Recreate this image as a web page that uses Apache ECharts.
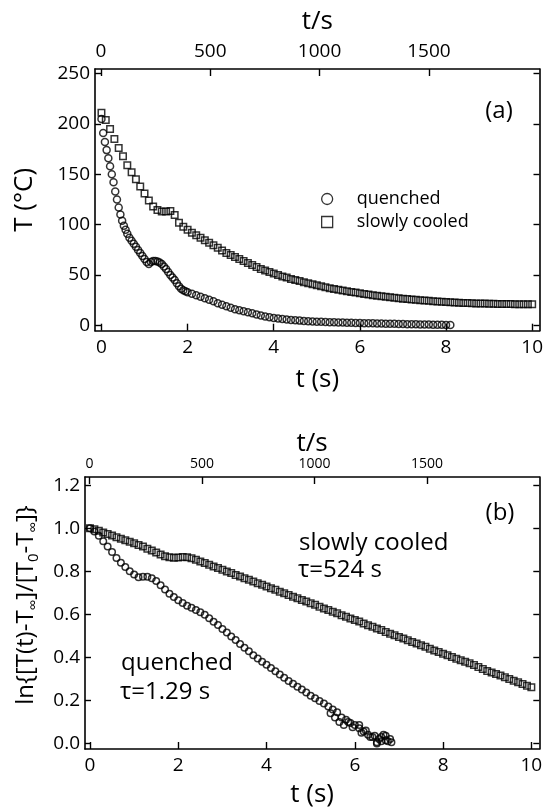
<!DOCTYPE html>
<html>
<head>
<meta charset="utf-8">
<script src="https://cdn.jsdelivr.net/npm/echarts@6/dist/echarts.min.js"></script>
<style>
html,body{margin:0;padding:0;background:#fff;}
#chart{width:553px;height:809px;}
</style>
</head>
<body>
<div id="chart"></div>
<script>
// ---------- data ----------
// panel (a): temperature T (°C) vs t (s)
const quenchedT = [
[0,205],[0.04,191],[0.08,182],[0.12,174],[0.16,166],[0.2,158],[0.24,150],[0.28,142],[0.32,133],[0.36,125],
[0.4,117],[0.44,110],[0.48,104],[0.52,99],[0.56,95],[0.6,91],[0.65,87],[0.7,84],[0.75,81],[0.8,78],
[0.85,75],[0.9,72],[0.95,69],[1.0,66],[1.05,63],[1.1,61],[1.15,63],[1.2,64],[1.25,64],[1.3,63.5],
[1.35,62.5],[1.4,61],[1.45,58.5],[1.5,56],[1.55,53],[1.6,50],[1.65,47.5],[1.7,45],[1.75,42],[1.8,39],
[1.85,36.5],[1.9,35],[1.95,34],[2.0,33],[2.1,31.5],[2.2,30],[2.3,28.5],[2.4,27],[2.5,25.5],[2.6,24],
[2.7,22],[2.8,20.5],[2.9,19],[3.0,17.5],[3.1,16],[3.2,15],[3.3,14],[3.4,13],[3.5,12],[3.6,11],
[3.7,10],[3.8,9],[3.9,8.2],[4.0,7.5],[4.1,7],[4.2,6.5],[4.3,6],[4.4,5.5],[4.5,5.1],[4.6,4.8],
[4.7,4.5],[4.8,4.2],[4.9,4],[5.0,3.8],[5.1,3.6],[5.2,3.4],[5.3,3.3],[5.4,3.1],[5.5,3],[5.6,2.9],
[5.7,2.8],[5.8,2.7],[5.9,2.5],[6.0,2.4],[6.1,2.3],[6.2,2.2],[6.3,2.1],[6.4,2],[6.5,1.9],[6.6,1.8],
[6.7,1.7],[6.8,1.6],[6.9,1.5],[7.0,1.4],[7.1,1.3],[7.2,1.2],[7.3,1.1],[7.4,1.0],[7.5,0.95],[7.6,0.9],
[7.7,0.8],[7.8,0.7],[7.9,0.6],[8.0,0.55],[8.1,0.5]
];
const slowlyT = [
[0,211],[0.1,204],[0.2,195],[0.3,185],[0.4,176],[0.5,168],[0.6,159],[0.7,152],[0.8,145],[0.9,138],
[1.0,131],[1.1,124],[1.2,118],[1.3,114.5],[1.4,113],[1.5,113],[1.6,113.5],[1.7,109.5],[1.8,102],[1.9,98],
[2.0,95],[2.1,92],[2.2,89.5],[2.3,87],[2.4,84.5],[2.5,82],[2.6,79.5],[2.7,77],[2.8,74.5],[2.9,72],
[3.0,70],[3.1,68],[3.2,66],[3.3,64],[3.4,62],[3.5,60],[3.6,58],[3.7,56],[3.8,54.5],[3.9,53],
[4.0,51.5],[4.1,50],[4.2,48.5],[4.3,47.5],[4.4,46],[4.5,45],[4.6,44],[4.7,43],[4.8,42],[4.9,41],
[5.0,40],[5.1,39],[5.2,38],[5.3,37],[5.4,36.2],[5.5,35.5],[5.6,34.7],[5.7,34],[5.8,33.3],[5.9,32.6],
[6.0,32],[6.1,31.3],[6.2,30.7],[6.3,30],[6.4,29.5],[6.5,29],[6.6,28.5],[6.7,28],[6.8,27.5],[6.9,27],
[7.0,26.6],[7.1,26.2],[7.2,25.8],[7.3,25.4],[7.4,25],[7.5,24.7],[7.6,24.4],[7.7,24.1],[7.8,23.8],[7.9,23.5],
[8.0,23.2],[8.1,23],[8.2,22.8],[8.3,22.6],[8.4,22.4],[8.5,22.2],[8.6,22],[8.7,21.9],[8.8,21.8],[8.9,21.7],
[9.0,21.6],[9.1,21.5],[9.2,21.4],[9.3,21.3],[9.4,21.2],[9.5,21.2],[9.6,21.1],[9.7,21.1],[9.8,21],[9.9,21],[10.0,21]
];
// panel (b): ln{[T(t)-Tinf]/[T0-Tinf]} vs t (s)
const quenchedLn = [
[0,1.0],[0.1,0.985],[0.2,0.965],[0.3,0.94],[0.4,0.915],[0.5,0.89],[0.6,0.862],[0.7,0.84],[0.8,0.82],[0.9,0.8],
[1.0,0.785],[1.1,0.772],[1.2,0.775],[1.3,0.775],[1.4,0.768],[1.5,0.755],[1.6,0.735],[1.7,0.715],[1.8,0.695],[1.9,0.68],
[2.0,0.665],[2.1,0.652],[2.2,0.64],[2.3,0.63],[2.4,0.62],[2.5,0.61],[2.6,0.598],[2.7,0.582],[2.8,0.565],[2.9,0.55],
[3.0,0.532],[3.1,0.515],[3.2,0.497],[3.3,0.48],[3.4,0.462],[3.5,0.445],[3.6,0.428],[3.7,0.41],[3.8,0.395],[3.9,0.38],
[4.0,0.365],[4.1,0.35],[4.2,0.335],[4.3,0.32],[4.4,0.305],[4.5,0.29],[4.6,0.277],[4.7,0.263],[4.8,0.25],[4.9,0.237],
[5.0,0.222],[5.1,0.21],[5.2,0.197],[5.3,0.185],[5.4,0.172],[5.5,0.158],[5.6,0.145],[5.7,0.12],[5.8,0.11],[5.9,0.095],
[6.0,0.085],[6.1,0.07],[6.2,0.055],[6.3,0.04],[6.4,0.03],[6.5,0.005],[6.55,0.02],[6.6,0.03],[6.65,0.04],[6.7,0.015],
[6.8,0.02],[6.83,0.005],
[5.45,0.14],[5.55,0.12],[5.65,0.10],[5.75,0.085],[5.85,0.1],[5.95,0.075],[6.1,0.085],[6.15,0.05],[6.25,0.06],[6.35,0.03],
[6.45,0.035],[6.5,0.0],[6.6,0.01],[6.7,0.035],[6.75,0.01]
];
const slowlyLn = [
[0,1.0],[0.1,0.995],[0.2,0.988],[0.3,0.98],[0.4,0.973],[0.5,0.966],[0.6,0.958],[0.7,0.951],[0.8,0.944],[0.9,0.937],
[1.0,0.93],[1.1,0.922],[1.2,0.915],[1.3,0.905],[1.4,0.896],[1.5,0.887],[1.6,0.878],[1.7,0.87],[1.8,0.865],[1.9,0.863],
[2.0,0.864],[2.1,0.866],[2.2,0.865],[2.3,0.86],[2.4,0.853],[2.5,0.845],[2.6,0.838],[2.7,0.83],[2.8,0.822],[2.9,0.815],
[3.0,0.807],[3.1,0.799],[3.2,0.792],[3.3,0.783],[3.4,0.776],[3.5,0.768],[3.6,0.761],[3.7,0.752],[3.8,0.744],[3.9,0.737],
[4.0,0.729],[4.1,0.721],[4.2,0.714],[4.3,0.705],[4.4,0.698],[4.5,0.69],[4.6,0.682],[4.7,0.675],[4.8,0.666],[4.9,0.659],
[5.0,0.651],[5.1,0.644],[5.2,0.635],[5.3,0.627],[5.4,0.62],[5.5,0.612],[5.6,0.605],[5.7,0.596],[5.8,0.588],[5.9,0.581],
[6.0,0.573],[6.1,0.566],[6.2,0.557],[6.3,0.549],[6.4,0.542],[6.5,0.534],[6.6,0.527],[6.7,0.518],[6.8,0.51],[6.9,0.503],
[7.0,0.495],[7.1,0.488],[7.2,0.479],[7.3,0.471],[7.4,0.464],[7.5,0.456],[7.6,0.449],[7.7,0.44],[7.8,0.432],[7.9,0.425],
[8.0,0.417],[8.1,0.41],[8.2,0.401],[8.3,0.393],[8.4,0.386],[8.5,0.379],[8.6,0.372],[8.7,0.364],[8.8,0.355],[8.9,0.346],
[9.0,0.337],[9.1,0.33],[9.2,0.322],[9.3,0.315],[9.4,0.307],[9.5,0.299],[9.6,0.291],[9.7,0.284],[9.8,0.276],[9.9,0.268],[10.0,0.261]
];
// tick labels
const timeTicks = [0,2,4,6,8,10];
const topTimeTicks = [0,500,1000,1500];
const tempTicks = [0,50,100,150,200,250];
const lnTicks = [0,0.2,0.4,0.6,0.8,1.0,1.2];

// ---------- chart ----------
const FONT = '"Open Sans", "DejaVu Sans", sans-serif';
const chart = echarts.init(document.getElementById('chart'), null, {renderer:'canvas'});

function axisBase(opts){
  const o = {
    type:'value',
    gridIndex: opts.grid,
    position: opts.position,
    min: opts.min, max: opts.max,
    axisLine:{show:true, onZero:false, lineStyle:{color:'#000', width:1.6}},
    splitLine:{show:false},
    axisTick:{show:true, inside:true, length: opts.tickLen || 7, customValues: opts.ticks, lineStyle:{color:'#000', width:1.4}},
    axisLabel:{show: opts.labels !== false, customValues: opts.ticks, margin: opts.margin || 6,
      color:'#000', fontFamily: FONT, fontSize: opts.fontSize || 19,
      formatter: opts.formatter || (v => String(v))},
  };
  if (opts.name){
    o.name = opts.name;
    o.nameLocation = 'middle';
    o.nameGap = opts.nameGap;
    o.nameTextStyle = Object.assign({color:'#000', fontFamily: FONT, fontSize: opts.nameSize || 26}, opts.nameStyle || {});
  }
  return o;
}

const hollow = {color:'rgba(255,255,255,0)', borderColor:'#000', borderWidth:1.5};

const option = {
  animation:false,
  backgroundColor:'#fff',
  grid:[
    {left:95, top:69, width:444.5, height:261.7},
    {left:85, top:477, width:454.3, height:274}
  ],
  xAxis:[
    axisBase({grid:0, position:'bottom', min:-0.15, max:10.17, ticks:timeTicks, margin:7, name:'t (s)', nameGap:36}),
    axisBase({grid:0, position:'top', min:-27.4, max:2006, ticks:topTimeTicks, margin:8, name:'t/s', nameGap:34}),
    axisBase({grid:1, position:'bottom', min:-0.113, max:10.18, ticks:timeTicks, margin:7, name:'t (s)', nameGap:33}),
    axisBase({grid:1, position:'top', min:-20, max:1999, ticks:topTimeTicks, margin:6, fontSize:14, name:'t/s', nameGap:20})
  ],
  yAxis:[
    axisBase({grid:0, position:'left', min:-5.2, max:254.5, ticks:tempTicks, margin:5, tickLen:6, name:'T (°C)', nameGap:57}),
    axisBase({grid:0, position:'right', min:-5.2, max:254.5, ticks:tempTicks, labels:false, tickLen:6}),
    axisBase({grid:1, position:'left', min:-0.026, max:1.238, ticks:lnTicks, margin:5, tickLen:6,
      formatter: v => v.toFixed(1),
      name:'ln{[T(t)-T{s|∞}]/[T{s|0}-T{s|∞}]}', nameGap:44, nameSize:24,
      nameStyle:{lineHeight:30, padding:[0,0,0,16], rich:{
        s:{fontFamily:FONT, fontSize:15, color:'#000', lineHeight:30, verticalAlign:'bottom'}
      }}}),
    axisBase({grid:1, position:'right', min:-0.026, max:1.238, ticks:lnTicks, labels:false, tickLen:6})
  ],
  legend:{
    left:316, top:185, orient:'vertical',
    itemWidth:11, itemHeight:11, itemGap:5,
    data:[{name:'quenched', icon:'circle'}, {name:'slowly cooled', icon:'rect'}],
    itemStyle:{color:'rgba(255,255,255,0)', borderColor:'#000', borderWidth:1.3},
    textStyle:{color:'#000', fontFamily:FONT, fontSize:18, lineHeight:18, padding:[0,0,0,19]}
  },
  series:[
    {name:'quenched', type:'scatter', xAxisIndex:0, yAxisIndex:0, data:quenchedT, symbol:'circle', symbolSize:7, itemStyle:hollow},
    {name:'slowly cooled', type:'scatter', xAxisIndex:0, yAxisIndex:0, data:slowlyT, symbol:'rect', symbolSize:6.5, itemStyle:hollow},
    {name:'quenched (b)', type:'scatter', xAxisIndex:2, yAxisIndex:2, data:quenchedLn, symbol:'circle', symbolSize:6.5, itemStyle:hollow},
    {name:'slowly cooled (b)', type:'scatter', xAxisIndex:2, yAxisIndex:2, data:slowlyLn, symbol:'rect', symbolSize:6.5, itemStyle:hollow}
  ],
  graphic:[
    {type:'text', x:499, y:111, style:{text:'(a)', font:'24px ' + FONT, fill:'#000', align:'center', verticalAlign:'middle'}},
    {type:'text', x:500, y:513, style:{text:'(b)', font:'24px ' + FONT, fill:'#000', align:'center', verticalAlign:'middle'}},
    {type:'text', x:299, y:543, style:{text:'slowly cooled', font:'24px ' + FONT, fill:'#000', align:'left', verticalAlign:'middle'}},
    {type:'text', x:298, y:570, style:{text:'τ=524 s', font:'24px ' + FONT, fill:'#000', align:'left', verticalAlign:'middle'}},
    {type:'text', x:121, y:663, style:{text:'quenched', font:'24px ' + FONT, fill:'#000', align:'left', verticalAlign:'middle'}},
    {type:'text', x:120, y:692, style:{text:'τ=1.29 s', font:'24px ' + FONT, fill:'#000', align:'left', verticalAlign:'middle'}}
  ]
};
chart.setOption(option);
</script>
</body>
</html>
